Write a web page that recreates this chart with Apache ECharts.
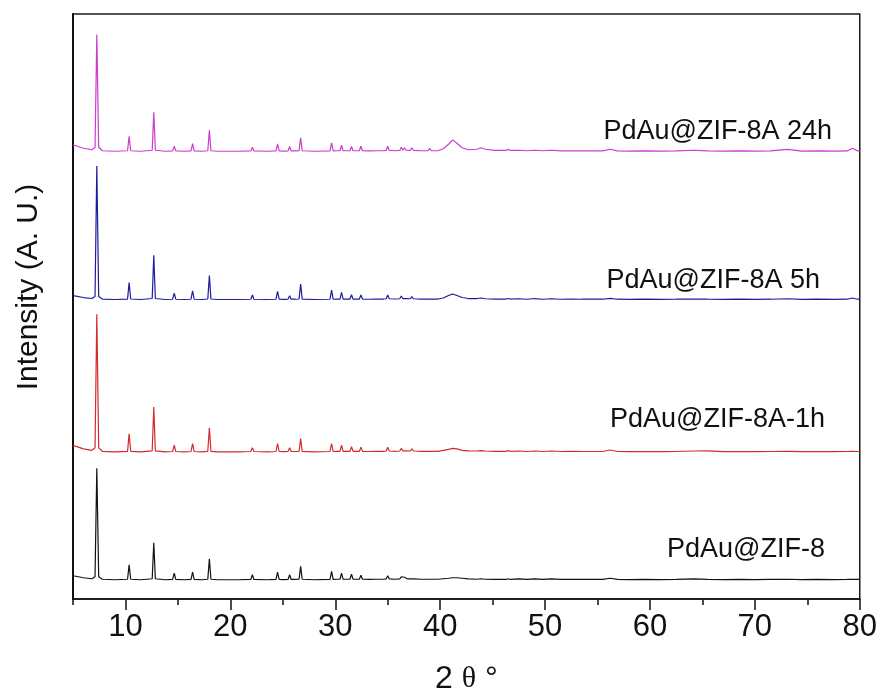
<!DOCTYPE html>
<html>
<head>
<meta charset="utf-8">
<script src="https://cdn.jsdelivr.net/npm/echarts@6/dist/echarts.min.js"></script>
<style>html,body{margin:0;padding:0;background:#fff}#c{width:880px;height:700px}</style>
</head>
<body>
<div id="c"></div>
<script>
// 2-theta positions (degrees)
var twoTheta = [
  5.0, 6.0, 6.8, 7.1, 7.27, 7.45, 7.8, 9.0, 10.2, 10.35,
  10.5, 11.5, 12.55, 12.7, 12.85, 13.8, 14.5, 14.65, 14.8, 15.6,
  16.25, 16.4, 16.55, 17.3, 17.85, 18.0, 18.15, 18.8, 19.3, 19.45,
  19.6, 20.8, 21.95, 22.1, 22.25, 23.5, 24.35, 24.5, 24.65, 25.1,
  25.5, 25.65, 25.8, 26.2, 26.55, 26.7, 26.85, 28.0, 29.5, 29.65,
  29.8, 30.1, 30.45, 30.6, 30.75, 31.1, 31.4, 31.55, 31.7, 32.0,
  32.3, 32.45, 32.6, 33.2, 33.9, 34.0, 34.1, 34.6, 34.85, 35.0,
  35.15, 35.7, 36.15, 36.3, 36.45, 36.6, 36.75, 36.9, 37.15, 37.3,
  37.45, 38.2, 38.85, 39.0, 39.15, 39.8, 40.3, 40.8, 41.2, 41.6,
  42.1, 42.7, 43.5, 43.9, 44.3, 45.2, 46.3, 46.5, 46.7, 47.5,
  48.3, 49.0, 49.8, 50.6, 51.5, 52.5, 53.5, 54.5, 55.5, 56.2,
  56.9, 58.0, 59.5, 61.0, 62.5, 64.2, 65.5, 67.0, 68.5, 70.0,
  71.5, 73.1, 74.5, 76.0, 77.5, 78.8, 79.3, 79.8, 80.0
];

// intensities (a.u.) above each pattern's own baseline
var intZIF8 = [
  4, 2, 1, 3, 112, 3, 0.5, 0, 0.5, 15,
  0.5, 0, 1, 37, 1, 0, 0.3, 6.7, 0.3, 0,
  0.3, 7.7, 0.3, 0, 0.5, 21, 0.5, 0, 0, 1.7,
  0, 0, 0.3, 5, 0.3, 0, 0.3, 7.7, 0.3, 0.2,
  0.3, 5, 0.3, 0.3, 0.5, 13.4, 0.5, 0, 0.3, 8.4,
  0.3, 0.5, 0.5, 6.7, 0.5, 0.5, 0.5, 5.7, 0.5, 0.5,
  0.5, 4.5, 0.5, 0.3, 0.5, 1.5, 0.5, 0.5, 0.8, 4,
  0.8, 0.5, 0.8, 3, 1, 2.5, 1, 0.8, 0.8, 2.5,
  0.8, 0.5, 0.5, 2, 0.5, 0.5, 1, 1.5, 2, 2,
  1.5, 0.8, 0.5, 1, 0.5, 0.3, 0.3, 1, 0.3, 0.8,
  0.3, 0.8, 0.3, 0.8, 0.3, 0.5, 0.3, 0.3, 0.3, 1.5,
  0.3, 0.2, 0.3, 0.2, 0.3, 0.8, 0.3, 0.2, 0.3, 0.2,
  0.3, 0.5, 0.2, 0.3, 0.2, 0.3, 0.5, 0.3, 0.3
];
var int1h = [
  6.5, 3, 1.5, 4, 138, 4, 0.5, 0, 0.5, 18,
  0.5, 0, 1, 45, 1, 0, 0.3, 6.6, 0.3, 0,
  0.3, 8.3, 0.3, 0, 0.5, 24, 0.5, 0, 0, 2,
  0, 0, 0.3, 4, 0.3, 0, 0.3, 8.3, 0.3, 0.2,
  0.3, 4, 0.3, 0.3, 0.5, 13.3, 0.5, 0, 0.3, 8.3,
  0.3, 0.5, 0.5, 6.6, 0.5, 0.5, 0.5, 5, 0.5, 0.5,
  0.5, 4.5, 0.5, 0.3, 0.5, 2, 0.5, 0.5, 0.8, 4.5,
  0.8, 0.5, 0.8, 3.5, 1, 3, 1, 0.8, 0.8, 3,
  0.8, 0.5, 0.5, 2.5, 0.5, 0.5, 1.5, 2.5, 3.5, 3,
  1.5, 1, 0.8, 1.2, 0.8, 0.5, 0.5, 1.2, 0.5, 0.8,
  0.3, 0.8, 0.3, 0.8, 0.3, 0.5, 0.3, 0.3, 0.3, 1.8,
  0.3, 0.2, 0.3, 0.2, 0.3, 0.8, 1, 0.2, 0.3, 0.2,
  0.3, 0.5, 0.2, 0.3, 0.2, 0.3, 0.5, 0.3, 0.3
];
var int5h = [
  4, 2, 1, 3, 134, 3, 0.5, 0, 0.5, 17,
  0.5, 0, 1, 44.5, 1, 0, 0.3, 6.5, 0.3, 0,
  0.3, 8.8, 0.3, 0, 0.5, 24, 0.5, 0, 0, 2,
  0, 0, 0.3, 4.5, 0.3, 0, 0.3, 8.2, 0.3, 0.2,
  0.3, 3.8, 0.3, 0.3, 0.5, 15.5, 0.5, 0, 0.3, 9.5,
  0.3, 0.5, 0.5, 7.2, 0.5, 0.5, 0.5, 4.8, 0.5, 0.5,
  0.5, 4.5, 0.5, 0.3, 0.5, 2, 0.5, 0.5, 0.8, 4.5,
  0.8, 0.5, 0.8, 3.5, 1, 3, 1, 0.8, 0.8, 3,
  0.8, 0.5, 0.5, 2.5, 0.5, 0.5, 1.5, 4, 5.5, 4,
  2, 1, 1, 1.5, 0.8, 0.5, 0.5, 1, 0.5, 0.8,
  0.3, 1, 0.3, 0.8, 0.3, 0.5, 0.3, 0.3, 0.3, 1.2,
  0.3, 0.2, 0.3, 0.2, 0.3, 0.5, 0.3, 0.2, 0.3, 0.2,
  0.3, 0.8, 0.2, 0.3, 0.2, 0.3, 1.5, 0.3, 0.3
];
var int24h = [
  6.5, 3, 1.5, 4, 117, 4, 0.5, 0, 0.5, 15,
  0.5, 0, 1, 39, 1, 0, 0.3, 5, 0.3, 0,
  0.3, 7.7, 0.3, 0, 0.5, 21, 0.5, 0, 0, 1.5,
  0, 0, 0.3, 4, 0.3, 0, 0.3, 7.4, 0.3, 0.2,
  0.3, 4.7, 0.3, 0.3, 0.5, 13.4, 0.5, 0, 0.3, 8.4,
  0.3, 0.5, 0.5, 6, 0.5, 0.5, 0.5, 4.7, 0.5, 0.5,
  0.5, 5, 0.5, 0.3, 0.5, 2, 0.5, 0.5, 0.8, 5,
  0.8, 0.5, 0.8, 4, 1, 3.5, 1, 0.8, 0.8, 3.5,
  0.8, 0.5, 0.5, 3, 0.5, 0.5, 2.5, 7, 11.4, 8,
  3.5, 1.5, 2, 3.5, 2, 0.8, 0.8, 2, 0.8, 1,
  0.5, 1, 0.5, 1, 0.3, 0.5, 0.3, 0.3, 0.3, 2,
  0.3, 0.2, 0.3, 0.2, 0.3, 1, 0.3, 0.2, 0.3, 0.2,
  0.3, 1.8, 0.2, 0.3, 0.2, 0.3, 3, 0.3, 0.3
];

var seriesNames = ['PdAu@ZIF-8', 'PdAu@ZIF-8A-1h', 'PdAu@ZIF-8A 5h', 'PdAu@ZIF-8A 24h'];
var seriesOffsets = [19.3, 147.7, 300.5, 449.3];   // vertical stacking offsets (a.u.)
var seriesColors = ['#111111', '#d42a2a', '#1c1c9c', '#cc3ccc'];
var xTickLabels = [10, 20, 30, 40, 50, 60, 70, 80];
var xMinorTicks = [5, 15, 25, 35, 45, 55, 65, 75];

var intensities = [intZIF8, int1h, int5h, int24h];

var chart = echarts.init(document.getElementById('c'), null, {renderer: 'canvas'});

var series = intensities.map(function (arr, k) {
  return {
    name: seriesNames[k],
    type: 'line',
    xAxisIndex: 0,
    yAxisIndex: 0,
    showSymbol: false,
    symbol: 'none',
    silent: true,
    lineStyle: {color: seriesColors[k], width: 1.2},
    data: twoTheta.map(function (x, i) { return [x, seriesOffsets[k] + arr[i]]; })
  };
});

var labelPos = [
  {right: 825, y: 550},
  {right: 825, y: 420},
  {right: 820, y: 281},
  {right: 832, y: 132}
];

var sans = '"Liberation Sans", Arial, sans-serif';

var graphics = labelPos.map(function (p, k) {
  return {
    type: 'text', x: p.right, y: p.y, silent: true,
    style: {
      text: seriesNames[k], fill: '#111',
      font: '27px ' + sans,
      align: 'right', verticalAlign: 'middle',
      textAlign: 'right', textVerticalAlign: 'middle'
    }
  };
});
graphics.push({
  type: 'text', x: 29, y: 287, rotation: Math.PI / 2, silent: true,
  style: {
    text: 'Intensity (A. U.)', fill: '#111',
    font: '30px ' + sans,
    align: 'center', verticalAlign: 'middle',
    textAlign: 'center', textVerticalAlign: 'middle'
  }
});

chart.setOption({
  animation: false,
  backgroundColor: '#fff',
  grid: {left: 73, right: 20, top: 14, bottom: 99, show: true, borderColor: '#1a1a1a', borderWidth: 1.5, backgroundColor: 'transparent'},
  xAxis: [{
    type: 'value', min: 5, max: 80, interval: 5,
    name: '{a|2 }{b|θ}{a| °}', nameLocation: 'middle', nameGap: 64,
    nameTextStyle: {
      rich: {
        a: {fontFamily: sans, fontSize: 32, color: '#111'},
        b: {fontFamily: '"Liberation Serif", serif', fontSize: 30, color: '#111'}
      }
    },
    axisLine: {show: true, onZero: false, lineStyle: {color: '#111', width: 1.5}},
    axisTick: {show: true, inside: false, length: 11, customValues: xTickLabels, lineStyle: {color: '#111', width: 1.5}},
    axisLabel: {show: true, margin: 13, customValues: xTickLabels, fontFamily: sans, fontSize: 31, color: '#111'},
    splitLine: {show: false}
  }, {
    type: 'value', min: 5, max: 80, interval: 5, position: 'bottom',
    axisLine: {show: false},
    axisTick: {show: true, inside: false, length: 6, customValues: xMinorTicks, lineStyle: {color: '#111', width: 1.5}},
    axisLabel: {show: false},
    splitLine: {show: false}
  }],
  yAxis: {
    type: 'value', min: 0, max: 587,
    axisLine: {show: true, lineStyle: {color: '#111', width: 2}},
    axisTick: {show: false}, axisLabel: {show: false}, splitLine: {show: false}
  },
  series: series,
  graphic: graphics
});
</script>
</body>
</html>
